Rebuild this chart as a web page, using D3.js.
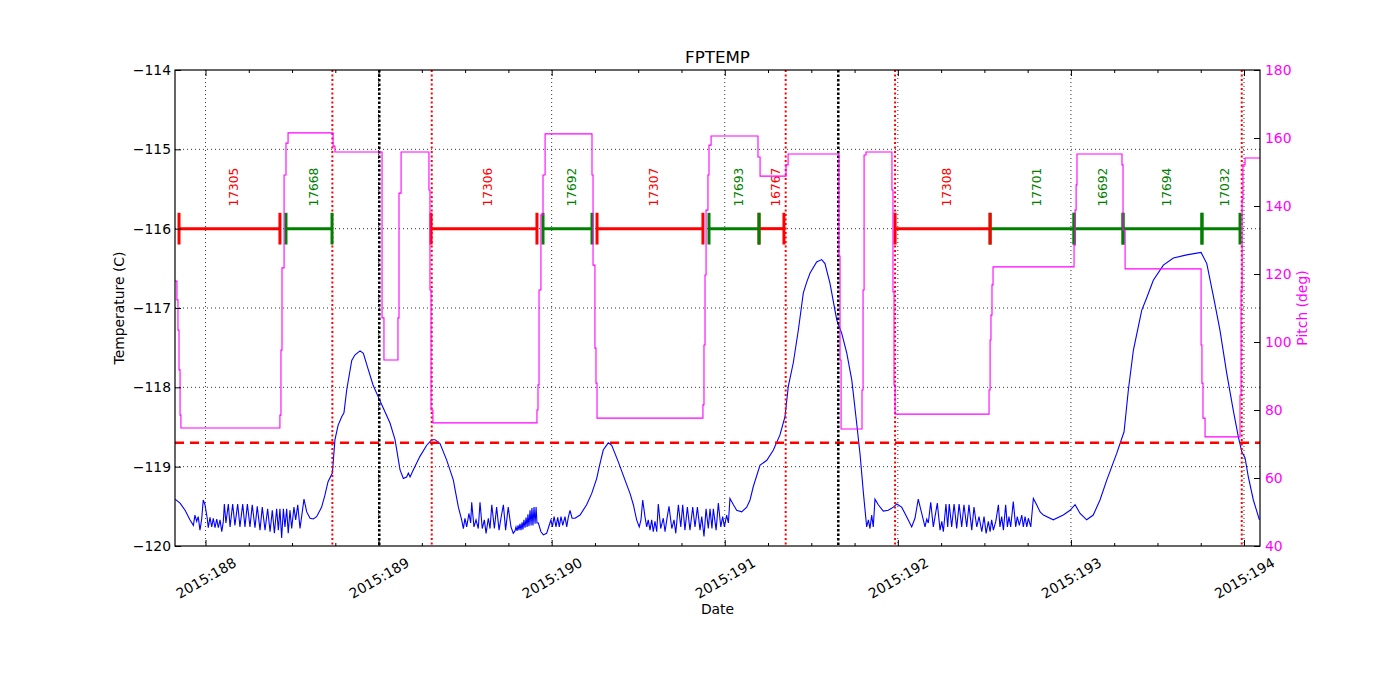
<!DOCTYPE html>
<html><head><meta charset="utf-8">
<script src="https://cdn.jsdelivr.net/npm/d3@7"></script>
<style>body{margin:0;background:#fff}text{font-family:"DejaVu Sans",sans-serif}</style>
</head><body><svg id="chart" width="1400" height="700"></svg>
<script>
// ---------- data ----------
const chartTitle = "FPTEMP";
const xTickDays = [188, 189, 190, 191, 192, 193, 194];
const xTickLabels = ["2015:188","2015:189","2015:190","2015:191","2015:192","2015:193","2015:194"];
const tempTicks = [-120, -119, -118, -117, -116, -115, -114];
const pitchTicks = [40, 60, 80, 100, 120, 140, 160, 180];
const tempLimit = -118.7;
const redLineDays = [188.733, 189.307, 191.352, 191.984, 193.987];
const blackLineDays = [189.004, 191.656];
const obsIds   = ["17305","17668","17306","17692","17307","17693","16767","17308","17701","16692","17694","17032"];
const obsStart = [187.847,188.465,189.303,189.950,190.262,190.909,191.198,191.984,192.533,193.018,193.301,193.757];
const obsStop  = [188.430,188.731,189.915,190.233,190.874,191.198,191.342,192.533,193.018,193.301,193.757,193.977];
const obsGroup = ["A","B","A","B","A","B","A","A","B","B","B","B"];
const obsLevel = -116;

const tempPoints = [
[187.824,-119.41],[187.853,-119.46],[187.882,-119.55],[187.910,-119.67],[187.930,-119.74],[187.939,-119.61],
[187.949,-119.69],[187.958,-119.63],[187.968,-119.80],[187.978,-119.66],[187.987,-119.42],[187.997,-119.48],
[188.010,-119.65],[188.016,-119.77],[188.026,-119.64],[188.036,-119.76],[188.045,-119.65],[188.055,-119.77],
[188.065,-119.66],[188.074,-119.77],[188.084,-119.67],[188.094,-119.82],[188.103,-119.69],[188.109,-119.47],
[188.118,-119.71],[188.132,-119.47],[188.142,-119.76],[188.157,-119.47],[188.170,-119.74],[188.186,-119.47],
[188.199,-119.76],[188.215,-119.47],[188.228,-119.76],[188.242,-119.47],[188.257,-119.76],[188.270,-119.48],
[188.286,-119.77],[188.299,-119.50],[188.315,-119.80],[188.328,-119.51],[188.344,-119.80],[188.359,-119.53],
[188.373,-119.82],[188.386,-119.55],[188.398,-119.84],[188.411,-119.53],[188.421,-119.80],[188.430,-119.53],
[188.440,-119.90],[188.450,-119.53],[188.459,-119.76],[188.469,-119.53],[188.478,-119.84],[188.488,-119.55],
[188.498,-119.78],[188.511,-119.51],[188.521,-119.67],[188.533,-119.48],[188.546,-119.78],[188.569,-119.41],
[188.585,-119.57],[188.604,-119.65],[188.623,-119.66],[188.642,-119.63],[188.671,-119.51],[188.690,-119.36],
[188.708,-119.19],[188.733,-119.08],[188.748,-118.66],[188.766,-118.48],[188.787,-118.37],[188.800,-118.32],
[188.816,-118.03],[188.845,-117.66],[188.864,-117.59],[188.893,-117.54],[188.912,-117.57],[188.941,-117.78],
[188.968,-117.97],[188.998,-118.12],[189.027,-118.26],[189.066,-118.45],[189.095,-118.66],[189.124,-119.04],
[189.143,-119.15],[189.162,-119.13],[189.172,-119.08],[189.182,-119.13],[189.201,-119.04],[189.239,-118.87],
[189.278,-118.73],[189.307,-118.66],[189.326,-118.66],[189.355,-118.71],[189.394,-118.92],[189.432,-119.17],
[189.442,-119.29],[189.461,-119.51],[189.480,-119.67],[189.490,-119.78],[189.499,-119.65],[189.509,-119.76],
[189.522,-119.59],[189.532,-119.71],[189.538,-119.45],[189.551,-119.76],[189.563,-119.67],[189.576,-119.78],
[189.586,-119.45],[189.599,-119.78],[189.611,-119.67],[189.621,-119.84],[189.634,-119.65],[189.644,-119.78],
[189.654,-119.48],[189.669,-119.78],[189.682,-119.51],[189.696,-119.80],[189.707,-119.65],[189.721,-119.48],
[189.734,-119.80],[189.749,-119.51],[189.765,-119.76],[189.778,-119.84],[189.788,-119.81],[189.794,-119.76],
[189.800,-119.81],[189.806,-119.74],[189.811,-119.80],[189.817,-119.72],[189.823,-119.80],[189.829,-119.70],
[189.834,-119.79],[189.840,-119.67],[189.846,-119.77],[189.852,-119.64],[189.858,-119.76],[189.863,-119.60],
[189.869,-119.75],[189.875,-119.55],[189.881,-119.74],[189.886,-119.52],[189.892,-119.74],[189.898,-119.51],
[189.904,-119.72],[189.910,-119.51],[189.915,-119.71],[189.923,-119.71],[189.938,-119.82],[189.952,-119.86],
[189.971,-119.84],[189.990,-119.71],[189.996,-119.67],[190.004,-119.76],[190.014,-119.63],[190.025,-119.76],
[190.035,-119.64],[190.044,-119.76],[190.054,-119.63],[190.064,-119.74],[190.077,-119.63],[190.087,-119.76],
[190.096,-119.64],[190.106,-119.55],[190.118,-119.65],[190.135,-119.65],[190.164,-119.61],[190.202,-119.48],
[190.231,-119.34],[190.260,-119.15],[190.275,-119.00],[190.298,-118.79],[190.327,-118.70],[190.347,-118.73],
[190.385,-118.94],[190.434,-119.23],[190.453,-119.34],[190.472,-119.48],[190.491,-119.67],[190.506,-119.76],
[190.516,-119.67],[190.526,-119.42],[190.539,-119.63],[190.549,-119.76],[190.558,-119.67],[190.568,-119.80],
[190.578,-119.67],[190.587,-119.82],[190.597,-119.69],[190.607,-119.82],[190.616,-119.47],[190.630,-119.78],
[190.645,-119.65],[190.655,-119.82],[190.665,-119.67],[190.678,-119.50],[190.694,-119.78],[190.707,-119.67],
[190.717,-119.84],[190.732,-119.48],[190.746,-119.76],[190.757,-119.48],[190.770,-119.80],[190.784,-119.51],
[190.799,-119.80],[190.815,-119.51],[190.828,-119.76],[190.842,-119.51],[190.857,-119.80],[190.867,-119.63],
[190.880,-119.88],[190.892,-119.53],[190.905,-119.78],[190.915,-119.53],[190.926,-119.78],[190.934,-119.53],
[190.950,-119.80],[190.963,-119.46],[190.977,-119.76],[190.988,-119.63],[190.998,-119.76],[191.011,-119.61],
[191.021,-119.71],[191.030,-119.40],[191.050,-119.48],[191.069,-119.55],[191.098,-119.57],[191.127,-119.51],
[191.146,-119.42],[191.165,-119.25],[191.204,-118.98],[191.243,-118.92],[191.281,-118.79],[191.319,-118.60],
[191.348,-118.37],[191.367,-117.99],[191.396,-117.69],[191.425,-117.28],[191.454,-116.81],[191.474,-116.67],
[191.493,-116.56],[191.531,-116.42],[191.560,-116.39],[191.579,-116.44],[191.608,-116.69],[191.647,-117.15],
[191.676,-117.32],[191.705,-117.57],[191.734,-117.91],[191.762,-118.45],[191.782,-118.85],[191.801,-119.33],
[191.820,-119.76],[191.830,-119.67],[191.839,-119.78],[191.849,-119.61],[191.858,-119.76],[191.868,-119.41],
[191.887,-119.48],[191.916,-119.56],[191.945,-119.55],[191.974,-119.51],[191.994,-119.47],[192.022,-119.51],
[192.051,-119.63],[192.080,-119.76],[192.099,-119.65],[192.118,-119.41],[192.138,-119.59],[192.157,-119.76],
[192.167,-119.66],[192.176,-119.71],[192.190,-119.45],[192.205,-119.76],[192.215,-119.63],[192.228,-119.46],
[192.244,-119.80],[192.254,-119.69],[192.263,-119.82],[192.278,-119.47],[192.288,-119.76],[192.297,-119.47],
[192.311,-119.76],[192.325,-119.47],[192.340,-119.78],[192.354,-119.47],[192.369,-119.76],[192.382,-119.48],
[192.398,-119.76],[192.411,-119.48],[192.427,-119.80],[192.440,-119.51],[192.456,-119.76],[192.469,-119.63],
[192.485,-119.82],[192.498,-119.63],[192.510,-119.84],[192.523,-119.69],[192.533,-119.82],[192.542,-119.67],
[192.552,-119.80],[192.566,-119.69],[192.581,-119.48],[192.590,-119.76],[192.600,-119.63],[192.610,-119.80],
[192.623,-119.48],[192.633,-119.76],[192.642,-119.63],[192.652,-119.76],[192.667,-119.44],[192.681,-119.76],
[192.690,-119.63],[192.702,-119.74],[192.716,-119.61],[192.725,-119.76],[192.735,-119.63],[192.745,-119.76],
[192.754,-119.65],[192.768,-119.76],[192.783,-119.40],[192.802,-119.48],[192.822,-119.57],[192.841,-119.61],
[192.898,-119.67],[192.956,-119.61],[192.995,-119.55],[193.024,-119.48],[193.053,-119.59],[193.091,-119.67],
[193.129,-119.61],[193.168,-119.42],[193.207,-119.17],[193.265,-118.83],[193.307,-118.56],[193.332,-118.03],
[193.361,-117.53],[193.409,-117.03],[193.438,-116.87],[193.476,-116.65],[193.534,-116.46],[193.592,-116.37],
[193.669,-116.33],[193.752,-116.30],[193.785,-116.44],[193.823,-116.85],[193.861,-117.28],[193.900,-117.82],
[193.938,-118.29],[193.967,-118.62],[193.987,-118.81],[194.006,-118.89],[194.025,-119.13],[194.054,-119.42],
[194.089,-119.67]
];

const pitchPoints = [
[187.824,117.9],[187.835,112.4],[187.841,103.5],[187.847,91.8],[187.853,78.5],[187.858,74.7],
[188.430,78.5],[188.436,97.6],[188.442,121.8],[188.454,149.1],[188.465,158.5],[188.477,161.5],
[188.737,157.6],[188.748,155.9],
[189.020,107.1],[189.031,94.7],
[189.112,107.1],[189.118,143.8],[189.130,155.9],
[189.291,144.7],[189.297,115.3],[189.303,80.0],[189.314,76.2],
[189.915,80.0],[189.921,87.4],[189.927,115.3],[189.938,137.4],[189.950,149.1],[189.962,161.2],
[190.233,149.1],[190.239,122.6],[190.250,98.2],[190.256,87.9],[190.262,77.6],
[190.874,81.5],[190.880,99.1],[190.886,119.7],[190.892,138.8],[190.903,149.1],[190.909,157.9],[190.921,160.6],
[191.192,154.4],[191.204,148.8],
[191.354,152.1],[191.366,155.3],
[191.660,125.3],[191.666,94.7],[191.672,74.4],
[191.793,85.9],[191.799,115.3],[191.805,155.0],[191.816,155.9],
[191.966,144.7],[191.972,114.7],[191.978,87.4],[191.984,78.8],
[192.527,85.9],[192.533,100.6],[192.538,107.9],[192.544,116.8],[192.550,122.1],
[193.018,128.5],[193.024,138.8],[193.030,146.2],[193.035,155.3],
[193.295,152.1],[193.301,132.9],[193.313,121.5],
[193.752,99.1],[193.757,87.9],[193.763,77.6],[193.775,72.1],
[193.977,84.4],[193.983,115.3],[193.989,141.8],[193.994,152.1],[194.006,154.1],
[194.093,154.1]
];

// ---------- drawing ----------
const L = 175, R = 1260, T = 70, B = 546;
const FS = 13.9;
const svg = d3.select("#chart");
const x = d3.scaleLinear().domain([187.8238, 194.0924]).range([L, R]);
const yT = d3.scaleLinear().domain([-120, -114]).range([B, T]);
const yP = d3.scaleLinear().domain([40, 180]).range([B, T]);
const groupColor = {A: "#ff0000", B: "#008000"};

svg.append("defs").append("clipPath").attr("id", "clip")
  .append("rect").attr("x", L).attr("y", T).attr("width", R - L).attr("height", B - T);

const minorDays = d3.range(187.75, 194.1, 0.25).filter(d => d > x.domain()[0] && d < x.domain()[1] && Math.abs(d - Math.round(d)) > 1e-6);

// grid
const grid = svg.append("g").attr("stroke", "#000").attr("stroke-width", 0.8).attr("stroke-dasharray", "1,3");
grid.selectAll(".gx").data(xTickDays).enter().append("line")
  .attr("x1", d => x(d)).attr("x2", d => x(d)).attr("y1", T).attr("y2", B);
grid.selectAll(".gy").data(tempTicks.slice(1, -1)).enter().append("line")
  .attr("x1", L).attr("x2", R).attr("y1", d => yT(d)).attr("y2", d => yT(d));

const plot = svg.append("g").attr("clip-path", "url(#clip)");

// temperature
plot.append("path").datum(tempPoints)
  .attr("fill", "none").attr("stroke", "#0000ff").attr("stroke-width", 1.1)
  .attr("d", d3.line().x(d => x(d[0])).y(d => yT(d[1])));

// limit line
plot.append("line").attr("x1", L).attr("x2", R).attr("y1", yT(tempLimit)).attr("y2", yT(tempLimit))
  .attr("stroke", "#ff0000").attr("stroke-width", 2.5).attr("stroke-dasharray", "9,6");

// vertical markers
plot.selectAll(".rl").data(redLineDays).enter().append("line")
  .attr("x1", d => x(d)).attr("x2", d => x(d)).attr("y1", T).attr("y2", B)
  .attr("stroke", "#ff0000").attr("stroke-width", 2).attr("stroke-dasharray", "2,2.5");
plot.selectAll(".bl").data(blackLineDays).enter().append("line")
  .attr("x1", d => x(d)).attr("x2", d => x(d)).attr("y1", T).attr("y2", B)
  .attr("stroke", "#000").attr("stroke-width", 2.5).attr("stroke-dasharray", "2.5,2");

// observations
const obs = obsIds.map((id, i) => ({id, s: obsStart[i], e: obsStop[i], g: obsGroup[i]}));
const og = plot.append("g");
og.selectAll(".ol").data(obs).enter().append("line")
  .attr("x1", d => x(d.s)).attr("x2", d => x(d.e)).attr("y1", yT(obsLevel)).attr("y2", yT(obsLevel))
  .attr("stroke", d => groupColor[d.g]).attr("stroke-width", 3);
og.selectAll(".cs").data(obs).enter().append("line")
  .attr("x1", d => x(d.s)).attr("x2", d => x(d.s)).attr("y1", yT(obsLevel + 0.2)).attr("y2", yT(obsLevel - 0.2))
  .attr("stroke", d => groupColor[d.g]).attr("stroke-width", 3);
og.selectAll(".ce").data(obs).enter().append("line")
  .attr("x1", d => x(d.e)).attr("x2", d => x(d.e)).attr("y1", yT(obsLevel + 0.2)).attr("y2", yT(obsLevel - 0.2))
  .attr("stroke", d => groupColor[d.g]).attr("stroke-width", 3);
og.selectAll(".ot").data(obs).enter().append("text")
  .attr("transform", d => `translate(${x((d.s + d.e) / 2) + 4.5},${yT(-115.72)}) rotate(-90)`)
  .attr("dominant-baseline", "central").attr("font-size", 12.2)
  .attr("fill", d => groupColor[d.g]).text(d => d.id);

// pitch
plot.append("path").datum(pitchPoints)
  .attr("fill", "none").attr("stroke", "#ff00ff").attr("stroke-width", 1.1)
  .attr("d", d3.line().curve(d3.curveStepAfter).x(d => x(d[0])).y(d => yP(d[1])));

// axes
function clean(g) { g.select(".domain").remove(); g.selectAll("line").attr("stroke", "#000"); }
const axB = svg.append("g").attr("transform", `translate(0,${B})`)
  .call(d3.axisBottom(x).tickValues(xTickDays).tickSizeInner(-6).tickSizeOuter(0)
    .tickFormat((d, i) => xTickLabels[i]));
clean(axB);
axB.selectAll("text").attr("y", null).attr("dy", null)
  .attr("transform", "translate(0,32) rotate(-30)").attr("text-anchor", "middle")
  .attr("dominant-baseline", "central").attr("font-size", FS).attr("fill", "#000");
const axBm = svg.append("g").attr("transform", `translate(0,${B})`)
  .call(d3.axisBottom(x).tickValues(minorDays).tickSize(-3).tickFormat(""));
clean(axBm);
const axT = svg.append("g").attr("transform", `translate(0,${T})`)
  .call(d3.axisTop(x).tickValues(xTickDays).tickSize(-6).tickFormat(""));
clean(axT);
const axTm = svg.append("g").attr("transform", `translate(0,${T})`)
  .call(d3.axisTop(x).tickValues(minorDays).tickSize(-3).tickFormat(""));
clean(axTm);
const axL = svg.append("g").attr("transform", `translate(${L},0)`)
  .call(d3.axisLeft(yT).tickValues(tempTicks).tickSizeInner(-6).tickSizeOuter(0).tickPadding(4)
    .tickFormat(d3.format("d")));
clean(axL);
axL.selectAll("text").attr("font-size", FS).attr("fill", "#000");
const axR = svg.append("g").attr("transform", `translate(${R},0)`)
  .call(d3.axisRight(yP).tickValues(pitchTicks).tickSizeInner(-6).tickSizeOuter(0).tickPadding(5)
    .tickFormat(d3.format("d")));
clean(axR);
axR.selectAll("text").attr("font-size", FS).attr("fill", "#ff00ff");
svg.selectAll(".tick text").attr("font-family", '"DejaVu Sans", sans-serif');

// frame
svg.append("rect").attr("x", L).attr("y", T).attr("width", R - L).attr("height", B - T)
  .attr("fill", "none").attr("stroke", "#000").attr("stroke-width", 1.2);

// titles
svg.append("text").attr("x", (L + R) / 2).attr("y", 63).attr("text-anchor", "middle")
  .attr("font-size", 16.7).text(chartTitle);
svg.append("text").attr("x", (L + R) / 2).attr("y", 614).attr("text-anchor", "middle")
  .attr("font-size", FS).text("Date");
svg.append("text").attr("transform", `translate(124,${(T + B) / 2}) rotate(-90)`)
  .attr("text-anchor", "middle").attr("font-size", FS).text("Temperature (C)");
svg.append("text").attr("transform", `translate(1307,${(T + B) / 2}) rotate(-90)`)
  .attr("text-anchor", "middle").attr("font-size", FS).attr("fill", "#ff00ff").text("Pitch (deg)");
</script></body></html>
